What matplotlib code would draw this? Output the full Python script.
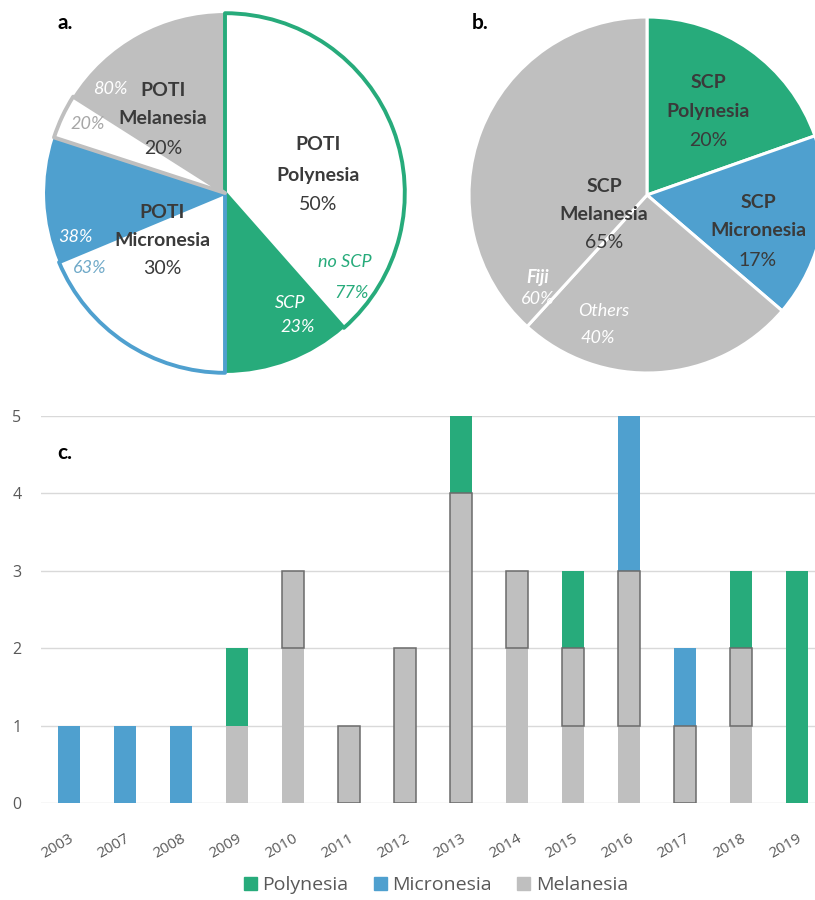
import numpy as np
import matplotlib
matplotlib.use("Agg")
import matplotlib.pyplot as plt
from matplotlib.patches import Patch

GREEN = '#27ab7b'
BLUE = '#4fa0cf'
GRAY = '#bfbfbf'
TXT = '#3a3a3a'

# ---- data ----
poti_groups = [50, 30, 20]          # Polynesia, Micronesia, Melanesia
poly_split = [77, 23]               # no SCP, SCP
micro_split = [63, 38]              # no SCP, SCP
mela_split = [20, 80]               # no SCP, SCP

scp_regions = [20, 17, 65]          # Polynesia, Micronesia, Melanesia
mela_scp_split = [40, 60]           # Others, Fiji

years = ['2003', '2007', '2008', '2009', '2010', '2011', '2012',
         '2013', '2014', '2015', '2016', '2017', '2018', '2019']
mela_others = [0, 0, 0, 1, 2, 0, 0, 0, 2, 1, 1, 0, 1, 0]
mela_fiji = [0, 0, 0, 0, 1, 1, 2, 4, 1, 1, 2, 1, 1, 0]
micronesia = [1, 1, 1, 0, 0, 0, 0, 0, 0, 0, 2, 1, 0, 0]
polynesia = [0, 0, 0, 1, 0, 0, 0, 1, 0, 1, 0, 0, 1, 3]

W, H = 815, 900
fig = plt.figure(figsize=(W / 100, H / 100), dpi=100)
plt.rcParams['font.family'] = ['Lato', 'DejaVu Sans']


def pie_axes(cx, cy, r, pad=1.03):
    s = r * pad
    ax = fig.add_axes([(cx - s) / W, (H - cy - s) / H, 2 * s / W, 2 * s / H])
    return ax


def split(total, parts):
    parts = np.array(parts, dtype=float)
    return list(total * parts / parts.sum())


# ---- pie a ----
cxa, cya, ra = 225, 193, 181
axa = pie_axes(cxa, cya, ra)
vals_a = (split(poti_groups[0], poly_split) + split(poti_groups[1], micro_split)
          + split(poti_groups[2], mela_split))
face_a = ['white', GREEN, 'white', BLUE, 'white', GRAY]
edge_a = [GREEN, 'white', BLUE, 'white', GRAY, 'white']
wedges, _ = axa.pie(vals_a, startangle=90, counterclock=False, colors=face_a)
for w, fc, ec in zip(wedges, face_a, edge_a):
    w.set_edgecolor(ec)
    w.set_joinstyle('round')
    if fc == 'white':
        w.set_linewidth(2.8)
        w.set_radius(1 - 1.2 / ra)
        w.set_zorder(3)
    else:
        w.set_linewidth(1.5)
        w.set_zorder(2)
axa.set_xlim(-1.03, 1.03)
axa.set_ylim(-1.03, 1.03)
axa.axis('off')


def ta(ax, cx, cy, r, px, py, s, **kw):
    ax.text((px - cx) / r, (cy - py) / r, s, ha='center', va='center', **kw)


FS = 14
FI = 13
ta(axa, cxa, cya, ra, 318, 144, 'POTI', fontsize=FS, weight='bold', color=TXT)
ta(axa, cxa, cya, ra, 318, 175, 'Polynesia', fontsize=FS, weight='bold', color=TXT)
ta(axa, cxa, cya, ra, 318, 205, '50%', fontsize=FS, color=TXT)
ta(axa, cxa, cya, ra, 163, 90, 'POTI', fontsize=FS, weight='bold', color=TXT)
ta(axa, cxa, cya, ra, 163, 118, 'Melanesia', fontsize=FS, weight='bold', color=TXT)
ta(axa, cxa, cya, ra, 163, 148, '20%', fontsize=FS, color=TXT)
ta(axa, cxa, cya, ra, 162, 212, 'POTI', fontsize=FS, weight='bold', color=TXT)
ta(axa, cxa, cya, ra, 162, 240, 'Micronesia', fontsize=FS, weight='bold', color=TXT)
ta(axa, cxa, cya, ra, 162, 268, '30%', fontsize=FS, color=TXT)
ta(axa, cxa, cya, ra, 110, 89, '80%', fontsize=FI, style='italic', color='white')
ta(axa, cxa, cya, ra, 88, 124, '20%', fontsize=FI, style='italic', color='#a6a6a6')
ta(axa, cxa, cya, ra, 75, 237, '38%', fontsize=FI, style='italic', color='white')
ta(axa, cxa, cya, ra, 90, 268, '63%', fontsize=FI, style='italic', color='#6fa9c8')
ta(axa, cxa, cya, ra, 345, 262, 'no SCP', fontsize=FI, style='italic', color=GREEN)
ta(axa, cxa, cya, ra, 352, 293, '77%', fontsize=FI, style='italic', color=GREEN)
ta(axa, cxa, cya, ra, 290, 303, 'SCP', fontsize=FI, style='italic', color='white')
ta(axa, cxa, cya, ra, 298, 327, '23%', fontsize=FI, style='italic', color='white')

# ---- pie b ----
cxb, cyb, rb = 647, 195, 178
axb = pie_axes(cxb, cyb, rb)
vals_b = scp_regions[:2] + split(scp_regions[2], mela_scp_split)
face_b = [GREEN, BLUE, GRAY, GRAY]
wedges, _ = axb.pie(vals_b, startangle=90, counterclock=False, colors=face_b,
                    wedgeprops=dict(edgecolor='white', linewidth=2.2))
axb.set_xlim(-1.03, 1.03)
axb.set_ylim(-1.03, 1.03)
axb.axis('off')

ta(axb, cxb, cyb, rb, 708, 82, 'SCP', fontsize=FS, weight='bold', color=TXT)
ta(axb, cxb, cyb, rb, 708, 111, 'Polynesia', fontsize=FS, weight='bold', color=TXT)
ta(axb, cxb, cyb, rb, 708, 140, '20%', fontsize=FS, color=TXT)
ta(axb, cxb, cyb, rb, 758, 202, 'SCP', fontsize=FS, weight='bold', color=TXT)
ta(axb, cxb, cyb, rb, 758, 230, 'Micronesia', fontsize=FS, weight='bold', color=TXT)
ta(axb, cxb, cyb, rb, 758, 260, '17%', fontsize=FS, color=TXT)
ta(axb, cxb, cyb, rb, 604, 186, 'SCP', fontsize=FS, weight='bold', color=TXT)
ta(axb, cxb, cyb, rb, 604, 215, 'Melanesia', fontsize=FS, weight='bold', color=TXT)
ta(axb, cxb, cyb, rb, 604, 243, '65%', fontsize=FS, color=TXT)
ta(axb, cxb, cyb, rb, 538, 277, 'Fiji', fontsize=FI, style='italic', weight='bold', color='white')
ta(axb, cxb, cyb, rb, 538, 299, '60%', fontsize=FI, style='italic', color='white')
ta(axb, cxb, cyb, rb, 604, 311, 'Others', fontsize=FI, style='italic', color='white')
ta(axb, cxb, cyb, rb, 598, 338, '40%', fontsize=FI, style='italic', color='white')

fig.text(57 / W, 1 - 23 / H, 'a.', fontsize=15, weight='bold', color='black', va='center')
fig.text(472 / W, 1 - 23 / H, 'b.', fontsize=15, weight='bold', color='black', va='center')

# ---- bar chart c ----
step = 56
x0 = 69 - 0.5 * step
axc = fig.add_axes([x0 / W, (H - 803) / H, 14 * step / W, (803 - 416) / H])
x = np.arange(len(years))
bw = 0.39
others = np.array(mela_others)
fiji = np.array(mela_fiji)
micro = np.array(micronesia)
poly = np.array(polynesia)

axc.bar(x, others, bw, color=GRAY, linewidth=0, zorder=2)
fiji_edges = ['#6b6b6b' if v > 0 else 'none' for v in fiji]
axc.bar(x, fiji, bw, bottom=others, color=GRAY, edgecolor=fiji_edges,
        linewidth=1.1, zorder=3)
axc.bar(x, micro, bw, bottom=others + fiji, color=BLUE, linewidth=0, zorder=2)
axc.bar(x, poly, bw, bottom=others + fiji + micro, color=GREEN, linewidth=0, zorder=2)

axc.set_xlim(-0.5, 13.5)
axc.set_ylim(0, 5)
axc.set_yticks(range(6))
axc.grid(axis='y', color='#d9d9d9', linewidth=1, zorder=0)
axc.set_axisbelow(True)
for s in axc.spines.values():
    s.set_visible(False)
axc.tick_params(length=0, colors='#595959', labelsize=11.5)
axc.tick_params(axis='y', pad=14)
axc.tick_params(axis='x', pad=20)
axc.set_xticks(x)
axc.set_xticklabels(years, rotation=30, ha='right', rotation_mode='anchor',
                    fontfamily=['Open Sans', 'DejaVu Sans'], fontsize=11)
for lab in axc.get_yticklabels():
    lab.set_fontfamily(['Open Sans', 'DejaVu Sans'])
fig.text(57 / W, 1 - 453 / H, 'c.', fontsize=15, weight='bold', color='black', va='center')

handles = [Patch(color=GREEN, label='Polynesia'),
           Patch(color=BLUE, label='Micronesia'),
           Patch(color=GRAY, label='Melanesia')]
leg = fig.legend(handles=handles, loc='center', bbox_to_anchor=(0.535, 1 - 885 / H),
                 ncol=3, frameon=False, handlelength=0.65, handleheight=0.65,
                 handletextpad=0.3, columnspacing=1.3,
                 prop={'family': ['Open Sans', 'DejaVu Sans'], 'size': 14})
for t in leg.get_texts():
    t.set_color('#595959')

fig.savefig('out.png', dpi=100)
